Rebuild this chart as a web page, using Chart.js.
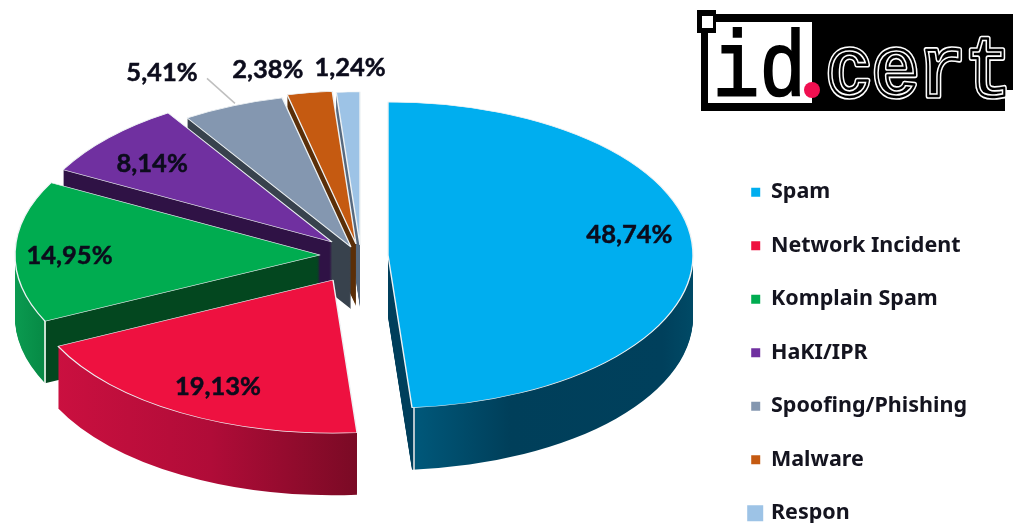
<!DOCTYPE html>
<html><head><meta charset="utf-8">
<style>html,body{margin:0;padding:0;background:#fff;overflow:hidden}canvas{display:block}</style>
<script src="https://cdn.jsdelivr.net/npm/chart.js@4/dist/chart.umd.min.js"></script>
</head><body>
<canvas id="c" width="1013" height="523"></canvas>
<script>
const categories = ["Spam","Network Incident","Komplain Spam","HaKI/IPR","Spoofing/Phishing","Malware","Respon"];
const shares = [48.74,19.13,14.95,8.14,5.41,2.38,1.24];
const shareLabels = ["48,74%","19,13%","14,95%","8,14%","5,41%","2,38%","1,24%"];
const topColors = ["#00AEEF","#EE1140","#00AC50","#7030A0","#8497B0","#C55A11","#9DC3E6"];

// styling of the exploded 3D look
const CENTER = {x:355, y:250}, SQUASH = 0.502, DEPTH = 62, RADIUS = 305;
const explodeX = [33,-22,-35,-23,-4,1,5];
const explodeY = [5,30,5,-8,-3,-6,-5];
const drawOrder = [6,5,4,3,2,0,1];
const sideStops = [
  [[0.5,"#003f5c"],[0.5405,"#003f5c"],[0.5405,"#b4c4cc"],[0.5435,"#b4c4cc"],[0.5435,"#00587a"],[0.70,"#003f5a"],[0.95,"#00405c"],[1,"#004a66"]],
  [[0.03,"#cc1040"],[0.3,"#b00c38"],[0.55,"#780a24"]],
  [[0,"#0b9a50"],[0.047,"#068a45"],[0.047,"#c8e0d0"],[0.0505,"#c8e0d0"],[0.0505,"#03471f"],[1,"#03471f"]],
  [[0,"#2f1245"],[1,"#2f1245"]],
  [[0,"#38424d"],[1,"#38424d"]],
  [[0,"#5a2e08"],[1,"#5a2e08"]],
  [[0,"#56697f"],[1,"#56697f"]]
];
const labelNudgeX = [89,-39,-98,-68,-130,-65,-4];
const labelNudgeY = [-17,40,2,-26,-104,-99,-101];

const pie3d = {
  id:'pie3d',
  beforeDatasetDraw(chart){
    const ctx = chart.ctx, arcs = chart.getDatasetMeta(0).data;
    const place = (arc,i,dy,fill,bw) => {
      ctx.save();
      ctx.translate(CENTER.x+explodeX[i], CENTER.y+explodeY[i]+dy);
      ctx.scale(1,SQUASH);
      ctx.translate(-arc.x,-arc.y);
      const saved = arc.options;
      arc.options = Object.create(saved,{
        backgroundColor:{value:fill},
        borderWidth:{value:bw},
        borderColor:{value:'#eef2f4'},
        offset:{value:0}
      });
      arc.draw(ctx);
      arc.options = saved;
      ctx.restore();
    };
    drawOrder.forEach(i=>{
      const arc = arcs[i];
      const g = ctx.createLinearGradient(arc.x-RADIUS,0,arc.x+RADIUS,0);
      sideStops[i].forEach(s=>g.addColorStop(s[0],s[1]));
      for(let d=DEPTH;d>=1;d--) place(arc,i,d,g,0);
      place(arc,i,0,topColors[i],1.4);
    });
    return false;
  },
  afterDatasetsDraw(chart){
    const ctx = chart.ctx, arcs = chart.getDatasetMeta(0).data;
    ctx.save();
    ctx.font = 'bold 25.5px Lato';
    ctx.fillStyle = '#0c0c1c';
    ctx.strokeStyle = '#0c0c1c';
    ctx.lineWidth = 0.5;
    ctx.textAlign='center'; ctx.textBaseline='middle';
    arcs.forEach((arc,i)=>{
      const p = arc.tooltipPosition();
      const x = CENTER.x+explodeX[i]+(p.x-arc.x)+labelNudgeX[i];
      const y = CENTER.y+explodeY[i]+(p.y-arc.y)*SQUASH+labelNudgeY[i];
      ctx.fillText(shareLabels[i],x,y);
      ctx.strokeText(shareLabels[i],x,y);
      if(i===4){
        ctx.save();
        ctx.strokeStyle='#bfbfbf';ctx.lineWidth=1.5;
        ctx.beginPath();ctx.moveTo(x+45,y+6);ctx.lineTo(x+73,y+31);ctx.stroke();
        ctx.restore();
      }
    });
    ctx.restore();
  },
  afterDraw(chart){
    const ctx = chart.ctx;
    // enlarged last legend swatch
    const hb = chart.legend.legendHitBoxes[6];
    ctx.save();
    ctx.fillStyle = topColors[6];
    ctx.fillRect(hb.left-4, hb.top+hb.height/2-8, 16, 16);
    ctx.restore();
    // logo
    ctx.save();
    ctx.fillStyle='#000';
    ctx.fillRect(701,14,312,76);
    ctx.fillRect(701,90,304,21);
    ctx.fillStyle='#fff';
    ctx.fillRect(708,22,104,81);
    ctx.fillStyle='#000';
    ctx.fillRect(697,10,19,23);
    ctx.fillStyle='#fff';
    ctx.fillRect(702,16,11,12);
    ctx.textBaseline='alphabetic';ctx.textAlign='left';
    ctx.font='92px "Liberation Mono"';
    ctx.save();ctx.translate(713,95);ctx.scale(0.84,1);
    ctx.fillStyle='#000';ctx.strokeStyle='#000';ctx.lineWidth=2;
    ctx.fillText('id',0,0);ctx.strokeText('id',0,0);ctx.restore();
    ctx.font='bold 92px "Liberation Mono"';
    ctx.save();ctx.translate(826,96);ctx.scale(0.84,0.95);
    ctx.lineJoin='round';
    ctx.strokeStyle='#fff';ctx.lineWidth=6;ctx.strokeText('cert',0,0);
    ctx.strokeStyle='#000';ctx.lineWidth=2.5;ctx.strokeText('cert',0,0);
    ctx.restore();
    ctx.fillStyle='#F00F50';
    ctx.beginPath();ctx.arc(812,90,8,0,Math.PI*2);ctx.fill();
    ctx.restore();
  }
};

new Chart(document.getElementById('c'),{
  type:'pie',
  data:{labels:categories,datasets:[{data:shares,backgroundColor:topColors,borderWidth:0}]},
  plugins:[pie3d],
  options:{
    responsive:false,animation:false,radius:RADIUS,
    layout:{padding:{right:36,bottom:-33,left:0,top:0}},
    plugins:{
      tooltip:{enabled:false},
      title:{display:false},
      legend:{
        position:'right',align:'end',
        labels:{
          boxWidth:9,boxHeight:9,padding:32,color:'#14141f',
          font:{family:'"Noto Sans"',size:21.5,weight:'bold'}
        }
      }
    }
  }
});
</script>
</body></html>
